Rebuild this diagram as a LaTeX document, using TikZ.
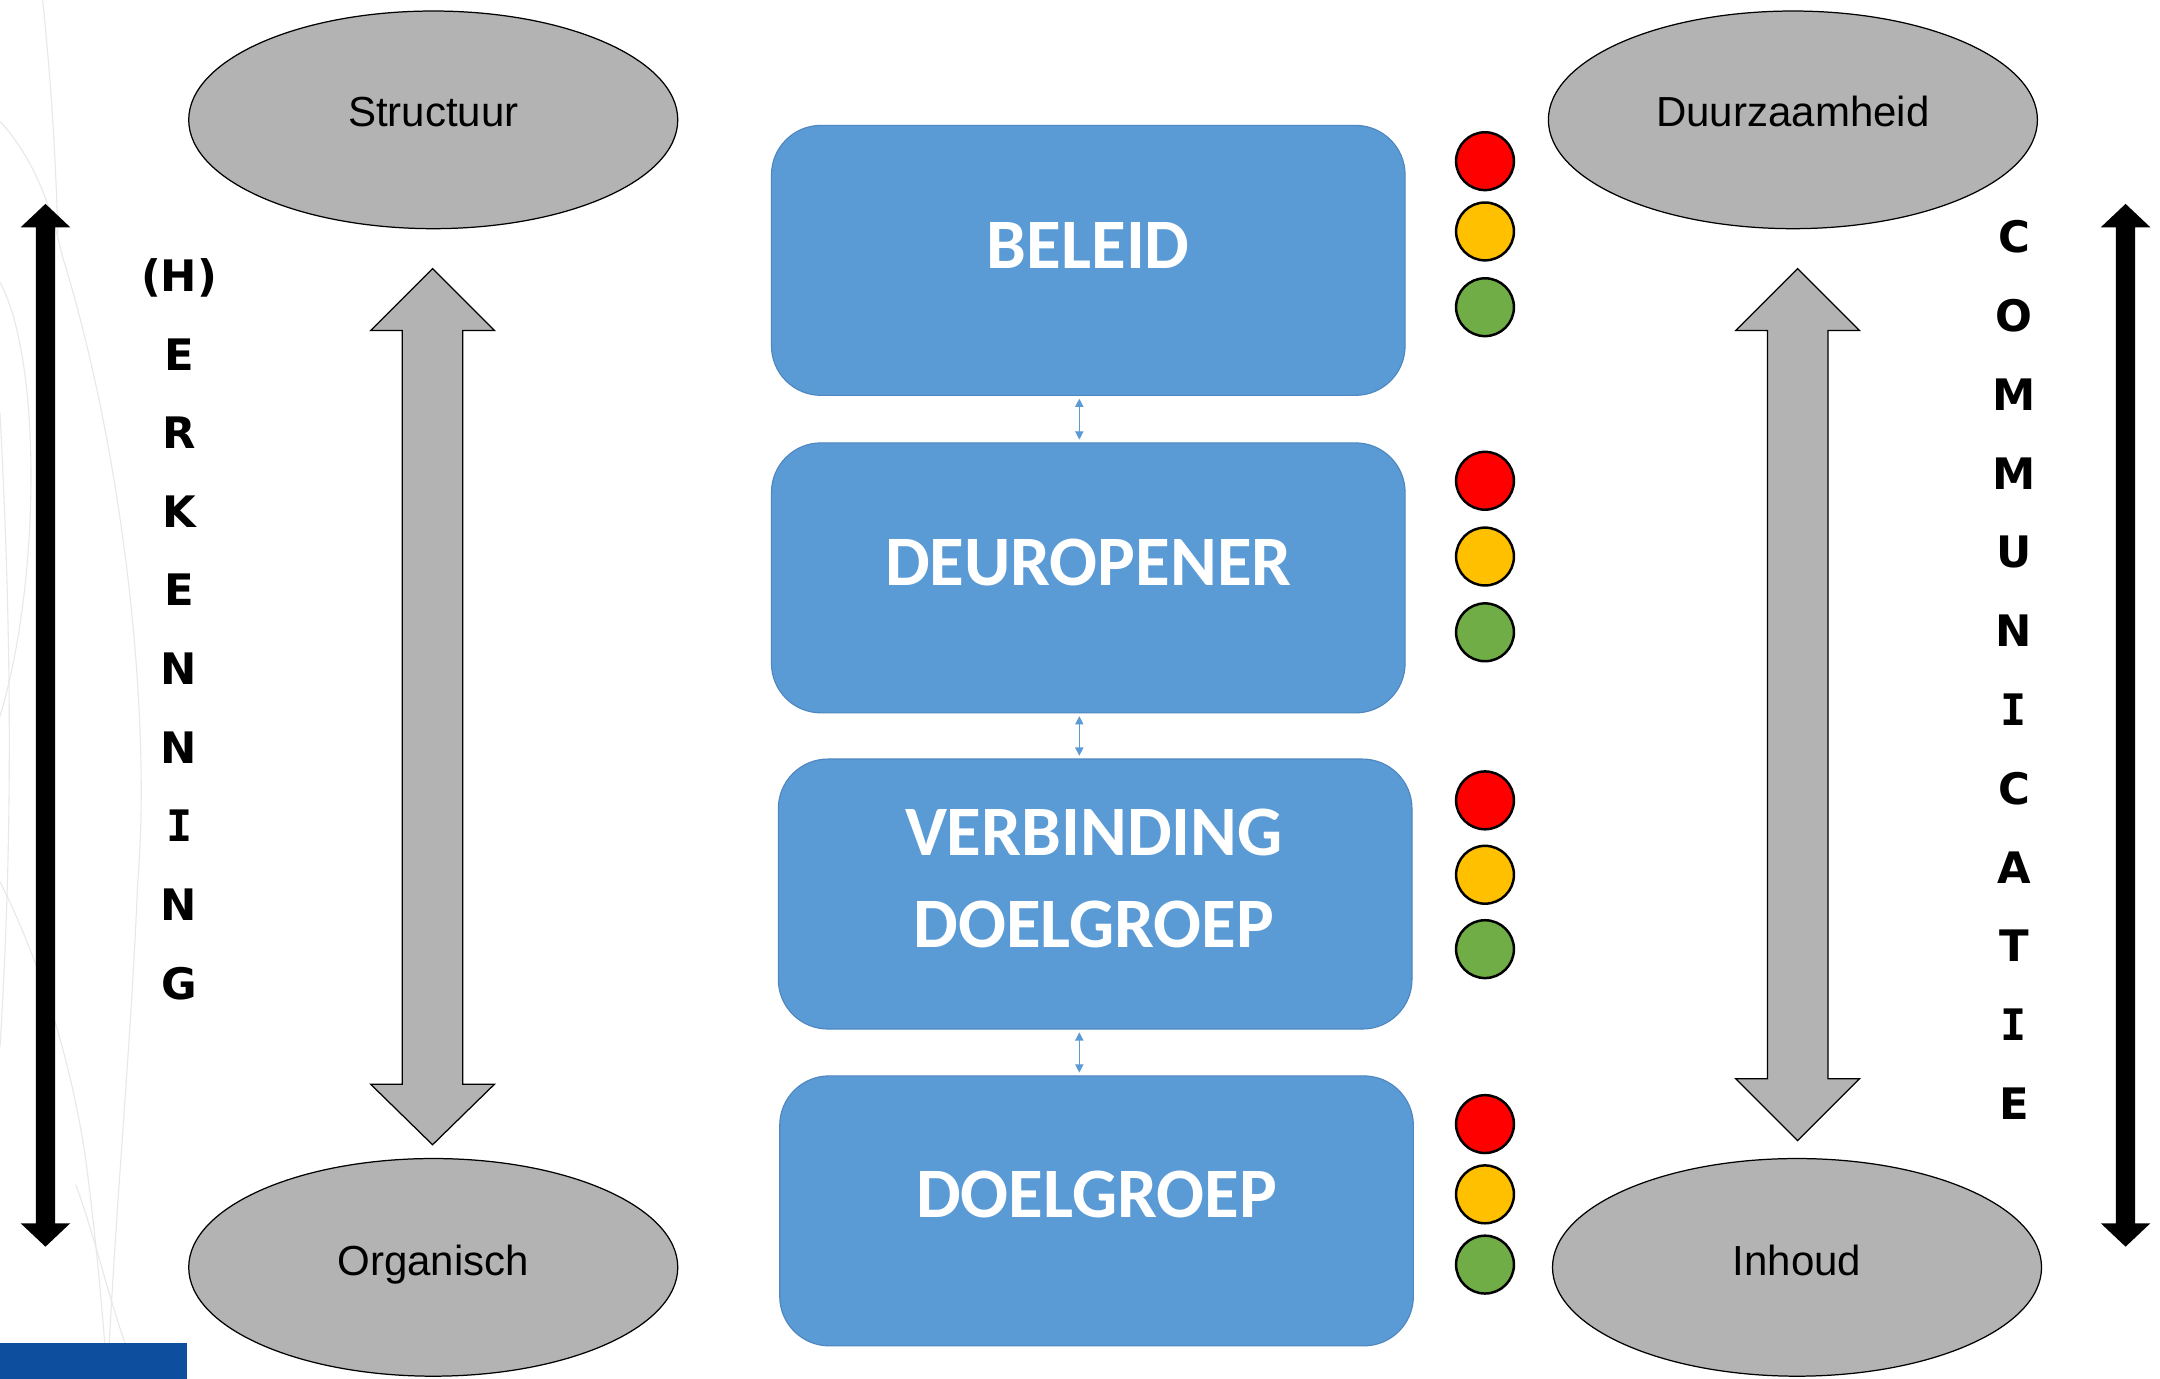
\documentclass[tikz,border=0pt]{standalone}
\usepackage{fontspec}
\setmainfont{Liberation Sans}
\newfontfamily\boxfont{Carlito}
\newfontfamily\letfont{DejaVu Sans}
\newfontfamily\letIfont{DejaVu Sans Mono}
\usetikzlibrary{arrows.meta,shapes.geometric}
\definecolor{boxblue}{HTML}{5B9BD5}
\definecolor{boxedge}{HTML}{4E86BF}
\definecolor{ellgray}{HTML}{B3B3B3}
\definecolor{tlred}{HTML}{FF0000}
\definecolor{tlorange}{HTML}{FFC000}
\definecolor{tlgreen}{HTML}{70AD47}
\definecolor{cornerblue}{HTML}{0D4E9E}
\newcommand{\serifI}{{\letIfont\bfseries I}}
\tikzset{
  ell/.style={ellipse, draw=black, line width=0.9pt, fill=ellgray, minimum width=355pt, minimum height=158pt, inner sep=0pt},
  elltext/.style={anchor=base, inner sep=0pt, font=\fontsize{30.5}{36}\selectfont},
  bluebox/.style={rectangle, rounded corners=36pt, fill=boxblue, draw=boxedge, line width=0.8pt, minimum width=460pt, minimum height=196pt, inner sep=0pt},
  boxtext/.style={anchor=base, inner sep=0pt, text=white, font=\boxfont\bfseries\fontsize{51.5}{67}\selectfont},
  light/.style={circle, draw=black, line width=1.8pt, minimum size=42pt, inner sep=0pt},
  letter/.style={anchor=base, inner sep=0pt, font=\letfont\bfseries\fontsize{31.5}{36}\selectfont},
  smallarrow/.style={draw=boxblue, line width=0.9pt, {Triangle[length=6pt,width=6pt]}-{Triangle[length=6pt,width=6pt]}},
  blockarrow/.style={fill=ellgray, draw=black, line width=0.9pt},
  blackarrow/.style={fill=black},
  faint/.style={draw=gray!18, line width=0.8pt}
}
\begin{document}
\begin{tikzpicture}[x=1pt,y=-1pt]
\useasboundingbox (0,0) rectangle (1568,1001);
\fill[white] (0,0) rectangle (1568,1001);

% faint background curves
\draw[faint] (31,0) .. controls (36,50) and (40,100) .. (42,170);
\draw[faint] (0,88) .. controls (20,110) and (35,140) .. (45,185) .. controls (90,330) and (110,520) .. (100,640) .. controls (95,760) and (85,860) .. (78,1000);
\draw[faint] (0,205) .. controls (30,260) and (30,420) .. (0,520);
\draw[faint] (0,640) .. controls (25,690) and (50,760) .. (62,840) .. controls (70,900) and (75,960) .. (78,1000);
\draw[faint] (100,1000) .. controls (80,950) and (70,900) .. (55,860);
\draw[faint] (0,300) .. controls (8,450) and (10,600) .. (0,760);

% corner bar
\fill[cornerblue] (0,975) rectangle (136,1001);

% ellipses
\node[ell] (structuur) at (314.5,87) {};
\node[elltext] (tstructuur) at (314.5,92) {Structuur};
\node[ell] (duurzaam) at (1301.5,87) {};
\node[elltext] (tduurzaam) at (1301.5,92) {Duurzaamheid};
\node[ell] (organisch) at (314.5,920) {};
\node[elltext] (torganisch) at (314.5,926) {Organisch};
\node[ell] (inhoud) at (1304.5,920) {};
\node[elltext] (tinhoud) at (1304.5,926) {Inhoud};

% gray double block arrows
\draw[blockarrow] (314,195) -- (359,240) -- (336,240) -- (336,787) -- (359,787) -- (314,831) -- (269,787) -- (292,787) -- (292,240) -- (269,240) -- cycle;
\draw[blockarrow] (1305,195) -- (1350,240) -- (1327,240) -- (1327,783) -- (1350,783) -- (1305,828) -- (1260,783) -- (1283,783) -- (1283,240) -- (1260,240) -- cycle;

% black double arrows
\fill[blackarrow] (33,148) -- (51,165) -- (40,165) -- (40,888) -- (51,888) -- (33,905) -- (15,888) -- (26,888) -- (26,165) -- (15,165) -- cycle;
\fill[blackarrow] (1543,148) -- (1561,165) -- (1550,165) -- (1550,888) -- (1561,888) -- (1543,905) -- (1525,888) -- (1536,888) -- (1536,165) -- (1525,165) -- cycle;

% blue boxes
\node[bluebox] (b1) at (790,189) {};
\node[boxtext] (tb1) at (790,195) {BELEID};
\node[bluebox] (b2) at (790,419.5) {};
\node[boxtext] (tb2) at (790,425) {DEUROPENER};
\node[bluebox] (b3) at (795,649) {};
\node[boxtext] (tb3a) at (794,621) {VERBINDING};
\node[boxtext] (tb3b) at (794,688) {DOELGROEP};
\node[bluebox] (b4) at (796,879) {};
\node[boxtext] (tb4) at (796,884) {DOELGROEP};

% small connectors
\coordinate (ax) at (783.5,0);
\draw[smallarrow, shorten <=2pt, shorten >=2pt] (b1.south -| ax) -- (b2.north -| ax);
\draw[smallarrow, shorten <=2pt, shorten >=2pt] (b2.south -| ax) -- (b3.north -| ax);
\draw[smallarrow, shorten <=2pt, shorten >=2pt] (b3.south -| ax) -- (b4.north -| ax);

% traffic lights
\foreach \n/\yr/\yo/\yg in {1/117/168/223, 2/349/404/459, 3/581/635/689, 4/816/867/918}{
  \node[light, fill=tlred] (r\n) at (1078,\yr) {};
  \node[light, fill=tlorange] (o\n) at (1078,\yo) {};
  \node[light, fill=tlgreen] (g\n) at (1078,\yg) {};
}

% vertical letters left
\foreach \t [count=\i from 0] in {(H),E,R,K,E,N,N,\serifI,N,G}{
  \node[letter] (L\i) at (130,{211.5+57.1*\i}) {\t};
}
% vertical letters right
\foreach \t [count=\i from 0] in {C,O,M,M,U,N,\serifI,C,A,T,\serifI,E}{
  \node[letter] (R\i) at (1462,{183.5+57.2*\i}) {\t};
}
\end{tikzpicture}
\end{document}
